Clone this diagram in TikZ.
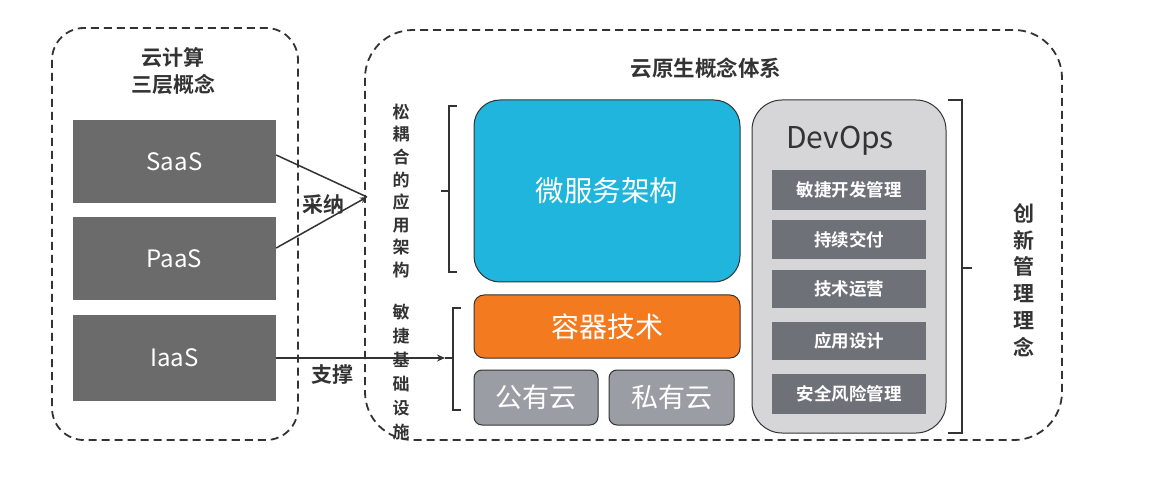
\documentclass[tikz,border=0pt]{standalone}
\usepackage{fontspec}
\setmainfont{Noto Sans CJK SC}
\newfontfamily\cjkb{Noto Sans CJK SC Bold}
\usetikzlibrary{arrows.meta}
\definecolor{dgray}{HTML}{6B6B6B}
\definecolor{cyanbox}{HTML}{1FB5DC}
\definecolor{orangebox}{HTML}{F47A20}
\definecolor{cloudgray}{HTML}{9A9EA4}
\definecolor{devgray}{HTML}{D6D6D8}
\definecolor{subgray}{HTML}{6E7178}
\definecolor{txt}{HTML}{333333}
\newcommand{\vtext}[2]{\parbox{1.3em}{\centering\linespread{1}\fontsize{#1}{#1}\selectfont #2}}
\tikzset{
  frame/.style={draw=txt, line width=1.8pt, dash pattern=on 8pt off 5pt, rounded corners=#1},
  layer/.style={fill=dgray, draw=none, text=white, font=\fontsize{24}{28}\selectfont},
  sub/.style={fill=subgray, draw=none, text=white, font=\cjkb\fontsize{17.5}{20}\selectfont, minimum width=154pt},
  conn/.style={draw=txt, line width=1.5pt},
  lbl/.style={text=txt, font=\cjkb\fontsize{21}{24}\selectfont},
  brace/.style={draw=txt, line width=1.5pt},
}
\begin{document}
\begin{tikzpicture}[x=1pt,y=-1pt]
\useasboundingbox (0,0) rectangle (1170,478);
% left frame
\draw[frame=32pt] (52,28) rectangle (298,440);
\node[text=txt, align=center, font=\cjkb\fontsize{21}{27}\selectfont] (t1) at (173,71) {云计算\\三层概念};
\node[layer, minimum width=203pt, minimum height=83pt] (saas) at (174.5,161.5) {SaaS};
\node[layer, minimum width=203pt, minimum height=83pt] (paas) at (174.5,258.5) {PaaS};
\node[layer, minimum width=203pt, minimum height=86pt] (iaas) at (174.5,358) {IaaS};
% right frame
\draw[frame=48pt] (365,30) rectangle (1062,440);
\node[text=txt, font=\cjkb\fontsize{21.5}{24}\selectfont] (t2) at (706,68) {云原生概念体系};
% center boxes
\node[draw=txt, line width=1pt, fill=cyanbox, rounded corners=26pt, minimum width=266pt, minimum height=182pt, text=white, font=\fontsize{28.5}{32}\selectfont] (ms) at (607,191) {微服务架构};
\node[draw=txt, line width=1pt, fill=orangebox, rounded corners=10pt, minimum width=266pt, minimum height=63pt, text=white, font=\fontsize{28}{32}\selectfont] (ct) at (607,326.5) {容器技术};
\node[draw=txt, line width=1pt, fill=cloudgray, rounded corners=8pt, minimum width=124pt, minimum height=55pt, text=white, font=\fontsize{27}{30}\selectfont] (pub) at (536,397.5) {公有云};
\node[draw=txt, line width=1pt, fill=cloudgray, rounded corners=8pt, minimum width=125pt, minimum height=55pt, text=white, font=\fontsize{27}{30}\selectfont] (pri) at (671.5,397.5) {私有云};
% devops
\node[draw=txt, line width=1pt, fill=devgray, rounded corners=30pt, minimum width=194pt, minimum height=333pt] (dev) at (849,266.5) {};
\node[text=txt, font=\fontsize{30}{34}\selectfont] (devt) at (840,141) {DevOps};
\node[sub, minimum height=40pt] (s1) at (849,190) {敏捷开发管理};
\node[sub, minimum height=39pt] (s2) at (849,239.5) {持续交付};
\node[sub, minimum height=38pt] (s3) at (849,289) {技术运营};
\node[sub, minimum height=38pt] (s4) at (849,341) {应用设计};
\node[sub, minimum height=40pt] (s5) at (849,394) {安全风险管理};
% vertical labels
\node[text=txt, font=\cjkb] (v1) at (399,191) {\vtext{17}{松\\[5.6pt]耦\\[5.6pt]合\\[5.6pt]的\\[5.6pt]应\\[5.6pt]用\\[5.6pt]架\\[5.6pt]构}};
\node[text=txt, font=\cjkb] (v2) at (399,372) {\vtext{17}{敏\\[7pt]捷\\[7pt]基\\[7pt]础\\[7pt]设\\[7pt]施}};
\node[text=txt, font=\cjkb] (v3) at (1020,280) {\vtext{21}{创\\[5.8pt]新\\[5.8pt]管\\[5.8pt]理\\[5.8pt]理\\[5.8pt]念}};
% braces
\draw[brace] (457,106) -- (449,106) -- (449,272) -- (457,272);
\draw[brace] (449,191) -- (441,191);
\draw[brace] (461,308) -- (453,308) -- (453,410) -- (461,410);
\draw[brace] (453,358) -- (445,358);
\draw[brace] (948,100) -- (962,100) -- (962,433) -- (948,433);
\draw[brace] (962,268) -- (972,268);
% connectors
\coordinate (adopt) at (367,197);
\draw[conn] (saas.east |- 0,155) -- (adopt);
\draw[conn, -{Stealth[length=7pt,width=6pt]}] (paas.east |- 0,248) -- (adopt);
\draw[conn, -{Stealth[length=8pt,width=7pt]}] (iaas.east) -- (445,358);
\node[lbl] (l1) at (323,204) {采纳};
\node[lbl] (l2) at (332,375) {支撑};
\end{tikzpicture}
\end{document}
